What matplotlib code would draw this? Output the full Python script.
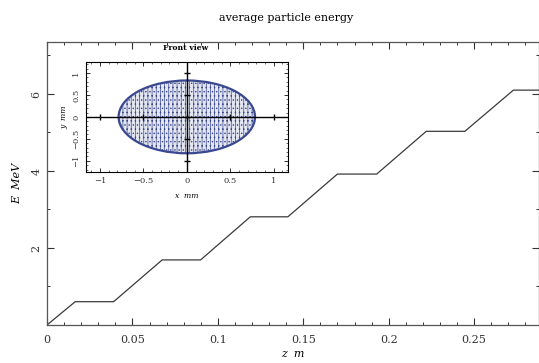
import numpy as np
import matplotlib
matplotlib.use("Agg")
from matplotlib import pyplot as plt
from matplotlib.patches import Ellipse
from matplotlib.ticker import MultipleLocator

# average energy along z (corners of the staircase)
z_m = [0, 0.0165, 0.039, 0.0674, 0.0899, 0.119, 0.141,
       0.170, 0.193, 0.222, 0.2446, 0.273, 0.288]
energy_mev = [0, 0.605, 0.605, 1.69, 1.69, 2.81, 2.81,
              3.92, 3.92, 5.03, 5.03, 6.1, 6.1]

x_ticks_main = [0, 0.05, 0.1, 0.15, 0.2, 0.25]
y_ticks_main = [2, 4, 6]

# front view of the bunch: outline of the particle cloud
bunch_center = (0.0, 0.0)
bunch_half_x = 0.785  # mm
bunch_half_y = 0.83   # mm
inset_ticks = [-1, -0.5, 0, 0.5, 1]
inset_tick_labels = ['\u22121', '\u22120.5', '0', '0.5', '1']

plt.rcParams['font.family'] = ['DejaVu Serif']
plt.rcParams['hatch.linewidth'] = 0.5

fig = plt.figure(figsize=(5.39, 3.63), dpi=100)
ax = fig.add_axes([0.0872, 0.1047, 0.9128, 0.7796])

ax.plot(z_m, energy_mev, color='#3a3a3a', lw=0.9)
ax.set_xlim(0, 0.288)
ax.set_ylim(0, 7.35)

ax.set_xticks(x_ticks_main)
ax.set_xticklabels(['0', '0.05', '0.1', '0.15', '0.2', '0.25'])
ax.set_yticks(y_ticks_main)
ax.set_yticklabels([str(v) for v in y_ticks_main], rotation=90, va='center')
ax.xaxis.set_minor_locator(MultipleLocator(0.01))
ax.yaxis.set_minor_locator(MultipleLocator(1))
ax.tick_params(which='both', direction='in', top=True, right=True,
               labelsize=8, colors='#333333')
ax.tick_params(which='major', length=5, width=0.8)
ax.tick_params(which='minor', length=2.5, width=0.7)
ax.tick_params(axis='x', pad=7)
ax.tick_params(axis='y', pad=4)
for s in ax.spines.values():
    s.set_color('#555555')
    s.set_linewidth(0.9)

ax.set_xlabel('z  m', fontstyle='italic', fontsize=8, labelpad=3)
ax.set_ylabel('E  MeV', fontstyle='italic', fontsize=8, labelpad=6.5)
fig.text(0.53, 0.95, 'average particle energy', ha='center', va='center',
         fontsize=8)
fig.text(0.345, 0.868, 'Front view', ha='center', va='center',
         fontsize=5.5, fontweight='bold')

# inset with the bunch cross section
ins = fig.add_axes([0.1596, 0.527, 0.374, 0.302])
ins.set_xlim(-1.16, 1.16)
ins.set_ylim(-1.25, 1.25)
cloud = Ellipse(bunch_center, 2 * bunch_half_x, 2 * bunch_half_y,
                facecolor='#e4e6f0', edgecolor='#3a4890', lw=1.6,
                hatch='||||....')
ins.add_patch(cloud)
ins.axhline(0, color='black', lw=1.0)
ins.axvline(0, color='black', lw=1.0)
ins.plot(inset_ticks, [0] * len(inset_ticks), ls='none', marker='|',
         ms=5, mew=1.0, color='black')
ins.plot([0] * len(inset_ticks), inset_ticks, ls='none', marker='_',
         ms=5, mew=1.0, color='black')

ins.set_xticks(inset_ticks)
ins.set_xticklabels(inset_tick_labels)
ins.set_yticks(inset_ticks)
ins.set_yticklabels(inset_tick_labels, rotation=90, va='center')
ins.xaxis.set_minor_locator(MultipleLocator(0.1))
ins.yaxis.set_minor_locator(MultipleLocator(0.1))
ins.tick_params(which='both', direction='in', top=True, right=True,
                labelsize=6, colors='#333333')
ins.tick_params(which='major', length=3, width=0.7)
ins.tick_params(which='minor', length=1.5, width=0.5)
ins.tick_params(axis='x', pad=4)
ins.tick_params(axis='y', pad=4)
for s in ins.spines.values():
    s.set_linewidth(0.8)
ins.set_xlabel('x  mm', fontstyle='italic', fontsize=5.5, labelpad=5)
ins.set_ylabel('y  mm', fontstyle='italic', fontsize=5.5, labelpad=3)

fig.savefig('out.png', dpi=100)
